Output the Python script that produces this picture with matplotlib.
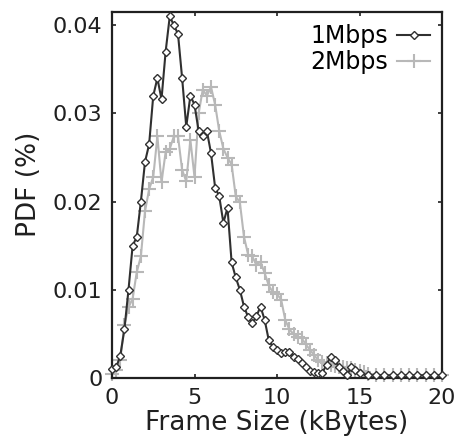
import matplotlib
matplotlib.use("Agg")
import matplotlib.pyplot as plt

# frame size bins (kBytes)
x_1m = [0.0, 0.25, 0.5, 0.75, 1.0, 1.25, 1.5, 1.75, 2.0, 2.25, 2.5, 2.75, 3.0, 3.25,
        3.5, 3.75, 4.0, 4.25, 4.5, 4.75, 5.0, 5.25, 5.5, 5.75, 6.0, 6.25, 6.5, 6.75,
        7.0, 7.25, 7.5, 7.75, 8.0, 8.25, 8.5, 8.75, 9.0, 9.25, 9.5, 9.75, 10.0, 10.25,
        10.5, 10.75, 11.0, 11.25, 11.5, 11.75, 12.0, 12.25, 12.5, 12.75, 13.0, 13.25,
        13.5, 13.75, 14.0, 14.25, 14.5, 14.75, 15.0, 15.5, 16.0, 16.5, 17.0, 17.5,
        18.0, 18.5, 19.0, 19.5, 20.0]
pdf_1m = [0.0010, 0.0012, 0.0025, 0.0055, 0.0100, 0.0150, 0.0160, 0.0200, 0.0245,
          0.0265, 0.0320, 0.0340, 0.0316, 0.0370, 0.0410, 0.0400, 0.0390, 0.0340,
          0.0285, 0.0320, 0.0310, 0.0280, 0.0274, 0.0280, 0.0255, 0.0216, 0.0206,
          0.0176, 0.0193, 0.0131, 0.0114, 0.0100, 0.0081, 0.0069, 0.0062, 0.0070,
          0.0081, 0.0066, 0.0043, 0.0035, 0.0032, 0.0028, 0.0030, 0.0030, 0.0024,
          0.0022, 0.0017, 0.0012, 0.0008, 0.0007, 0.0006, 0.0006, 0.0015, 0.0024,
          0.0020, 0.0013, 0.0008, 0.0003, 0.0013, 0.0009, 0.0006, 0.0003, 0.0003,
          0.0003, 0.0003, 0.0003, 0.0003, 0.0003, 0.0003, 0.0003, 0.0003]

x_2m = [0.0, 0.25, 0.5, 0.75, 1.0, 1.25, 1.5, 1.75, 2.0, 2.25, 2.5, 2.75, 3.0, 3.25,
        3.5, 3.75, 4.0, 4.25, 4.5, 4.75, 5.0, 5.25, 5.5, 5.75, 6.0, 6.25, 6.5, 6.75,
        7.0, 7.25, 7.5, 7.75, 8.0, 8.25, 8.5, 8.75, 9.0, 9.25, 9.5, 9.75, 10.0, 10.25,
        10.5, 10.75, 11.0, 11.25, 11.5, 11.75, 12.0, 12.25, 12.5, 12.75, 13.0, 13.25,
        13.5, 13.75, 14.0, 14.25, 14.5, 14.75, 15.0, 15.25, 15.5, 16.0, 16.5, 17.0,
        17.5, 18.0, 18.5, 19.0, 19.5, 20.0]
pdf_2m = [0.0005, 0.0009, 0.0020, 0.0060, 0.0080, 0.0090, 0.0120, 0.0138, 0.0189,
          0.0214, 0.0228, 0.0274, 0.0222, 0.0256, 0.0260, 0.0274, 0.0274, 0.0236,
          0.0223, 0.0270, 0.0228, 0.0300, 0.0327, 0.0320, 0.0330, 0.0310, 0.0280,
          0.0260, 0.0250, 0.0242, 0.0206, 0.0199, 0.0160, 0.0140, 0.0138, 0.0128,
          0.0132, 0.0119, 0.0105, 0.0097, 0.0095, 0.0089, 0.0066, 0.0055, 0.0050,
          0.0047, 0.0045, 0.0038, 0.0032, 0.0026, 0.0020, 0.0018, 0.0017, 0.0015,
          0.0014, 0.0013, 0.0012, 0.0011, 0.0011, 0.0009, 0.0008, 0.0007, 0.0005,
          0.0003, 0.0003, 0.0003, 0.0003, 0.0003, 0.0003, 0.0003, 0.0003, 0.0003]

x_ticks = [0, 5, 10, 15, 20]
y_ticks = [0, 0.01, 0.02, 0.03, 0.04]
y_tick_labels = ["0", "0.01", "0.02", "0.03", "0.04"]

plt.rcParams['font.family'] = 'DejaVu Sans'

fig = plt.figure(figsize=(4.62, 4.46), dpi=100)
ax = fig.add_axes([112/462, 1-378/446, 330/462, 366/446])

ax.plot(x_1m, pdf_1m, color='#303030', lw=1.5, marker='D', ms=4,
        mfc='white', mec='#303030', mew=1.0, label='1Mbps', zorder=3, clip_on=False)
ax.plot(x_2m, pdf_2m, color='#b8b8b8', lw=1.5, marker='+', ms=10,
        mew=1.5, label='2Mbps', zorder=2, clip_on=False)

ax.set_xlim(0, 20)
ax.set_ylim(0, 0.0415)
ax.set_xticks(x_ticks)
ax.set_yticks(y_ticks)
ax.set_yticklabels(y_tick_labels)

ax.tick_params(direction='in', length=3, width=1.2, top=True, right=True,
               labelsize=16, pad=7, colors='#202020')
for s in ax.spines.values():
    s.set_linewidth(1.6)
    s.set_color('#202020')

ax.set_xlabel('Frame Size (kBytes)', fontsize=19, color='#202020', labelpad=2)
ax.set_ylabel('PDF (%)', fontsize=19, color='#202020')
ax.yaxis.set_label_coords(-0.212, 0.53)

ax.legend(loc='upper right', frameon=False, markerfirst=False, fontsize=17,
          handlelength=1.4, handletextpad=0.4, borderaxespad=0.1, labelspacing=0.1)

fig.savefig('out.png', dpi=100)
